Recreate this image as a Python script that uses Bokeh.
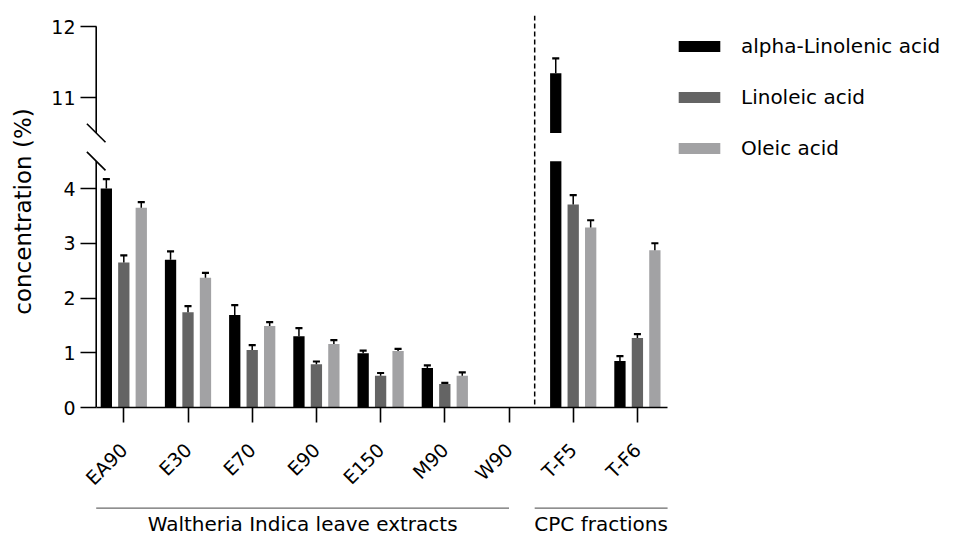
import numpy as np
from bokeh.plotting import figure
from bokeh.models import ColumnDataSource, Range1d, FixedTicker, Span, Legend, LegendItem
from bokeh.layouts import column
from bokeh.core.properties import value
from bokeh.embed import file_html
from bokeh.resources import INLINE

# ---------------- data ----------------
categories = ["EA90", "E30", "E70", "E90", "E150", "M90", "W90", "T-F5", "T-F6"]
series_names = ["alpha-Linolenic acid", "Linoleic acid", "Oleic acid"]
alpha = [4.00, 2.70, 1.69, 1.30, 0.99, 0.72, 0.0, 11.34, 0.85]
alpha_err = [0.17, 0.15, 0.18, 0.15, 0.05, 0.05, 0.0, 0.21, 0.09]
linoleic = [2.65, 1.74, 1.05, 0.79, 0.58, 0.43, 0.0, 3.71, 1.27]
linoleic_err = [0.13, 0.11, 0.09, 0.05, 0.05, 0.02, 0.0, 0.17, 0.07]
oleic = [3.65, 2.37, 1.49, 1.16, 1.03, 0.58, 0.0, 3.29, 2.87]
oleic_err = [0.10, 0.09, 0.07, 0.07, 0.04, 0.06, 0.0, 0.13, 0.13]
groups = ["Waltheria Indica leave extracts", "CPC fractions"]
group_start = [-0.43, 6.4]
group_end = [6.0, 8.47]
divider_x = 6.4
lower_ticks = [0, 1, 2, 3, 4]
upper_ticks = [11, 12]
LOWER_MAX = 4.5
UPPER_MIN = 10.5
UPPER_MAX = 12.0

# ---------------- layout / style ----------------
FONT = "DejaVu Sans"
colors = ["#000000", "#646464", "#a2a2a4"]
W, H_MAIN, H_GROUP = 961, 503, 32
LEFT, TOP, BOTTOM = 80, 15, 96
frame_w = W - LEFT
frame_h = H_MAIN - TOP - BOTTOM
PX_PER_CAT = 64.2
X_AXIS = -0.43          # where the y axis line sits
X_END = 8.465           # end of x axis line
x0 = X_AXIS - 15.7 / PX_PER_CAT
x_range = Range1d(x0, x0 + frame_w / PX_PER_CAT)
L0, L1 = 0.0, 7.16
U0, U1 = 6.634, 12.155
BAR_W = 0.176
OFFSETS = [-0.272, 0.0, 0.272]
CAP = 0.055

p = figure(width=W, height=H_MAIN, x_range=x_range, y_range=Range1d(L0, L1),
           output_backend="svg", toolbar_location=None, title=None,
           min_border_left=LEFT, min_border_right=0, min_border_top=TOP,
           min_border_bottom=BOTTOM)
p.extra_y_ranges = {"upper": Range1d(U0, U1)}
p.outline_line_color = None
p.xgrid.visible = False
p.ygrid.visible = False
p.background_fill_color = "white"
p.border_fill_color = "white"

all_vals = [alpha, linoleic, oleic]
all_errs = [alpha_err, linoleic_err, oleic_err]
xs = np.arange(len(categories), dtype=float)
legend_items = []
for name, vals, errs, col, off in zip(series_names, all_vals, all_errs, colors, OFFSETS):
    v = np.array(vals, dtype=float)
    e = np.array(errs, dtype=float)
    x = xs + off
    src = ColumnDataSource(dict(x=x, top=np.minimum(v, LOWER_MAX)))
    r = p.vbar(x="x", top="top", bottom=0, width=BAR_W, source=src,
               fill_color=col, line_color=None)
    legend_items.append(LegendItem(label=name, renderers=[r]))
    up = v > UPPER_MIN
    if up.any():
        p.vbar(x=x[up], top=v[up], bottom=UPPER_MIN, width=BAR_W,
               fill_color=col, line_color=None, y_range_name="upper")
    low = (v > 0) & (v <= LOWER_MAX)
    for mask, rng in ((low, "default"), (up, "upper")):
        if not mask.any():
            continue
        xm, vm, em = x[mask], v[mask], e[mask]
        p.segment(x0=xm, y0=vm, x1=xm, y1=vm + em, line_color="black",
                  line_width=1.5, y_range_name=rng)
        p.segment(x0=xm - CAP, y0=vm + em, x1=xm + CAP, y1=vm + em,
                  line_color="black", line_width=2.2, y_range_name=rng)

# divider
p.add_layout(Span(location=divider_x, dimension="height", line_color="black",
                  line_width=1.5, line_dash="5 3"))

# broken y axis line and break marks
p.segment(x0=[X_AXIS], y0=[0], x1=[X_AXIS], y1=[LOWER_MAX], line_color="black", line_width=1.6)
p.segment(x0=[X_AXIS], y0=[UPPER_MIN], x1=[X_AXIS], y1=[UPPER_MAX], line_color="black",
          line_width=1.6, y_range_name="upper")
sx = frame_w / (x_range.end - x_range.start)
sy_low = frame_h / (L1 - L0)
sy_up = frame_h / (U1 - U0)
half = 9.3
p.segment(x0=[X_AXIS - half / sx], y0=[LOWER_MAX + half / sy_low],
          x1=[X_AXIS + half / sx], y1=[LOWER_MAX - half / sy_low],
          line_color="black", line_width=1.6)
p.segment(x0=[X_AXIS - half / sx], y0=[UPPER_MIN + half / sy_up],
          x1=[X_AXIS + half / sx], y1=[UPPER_MIN - half / sy_up],
          line_color="black", line_width=1.6, y_range_name="upper")

# y axis (ticks/labels for both segments on one axis)
def to_lower(vv):
    return L0 + (vv - U0) / (U1 - U0) * (L1 - L0)

tick_pos = [float(t) for t in lower_ticks] + [to_lower(t) for t in upper_ticks]
tick_lab = [str(t) for t in lower_ticks] + [str(t) for t in upper_ticks]
ya = p.yaxis[0]
ya.ticker = FixedTicker(ticks=tick_pos)
ya.major_label_overrides = {tp: tl for tp, tl in zip(tick_pos, tick_lab)}
ya.axis_line_color = None
ya.major_tick_in = 16
ya.major_tick_out = 0
ya.major_tick_line_width = 1.6
ya.major_tick_line_color = "black"
ya.minor_tick_line_color = None
ya.major_label_standoff = 5
ya.major_label_text_font = FONT
ya.major_label_text_font_size = "19px"
ya.major_label_text_color = "black"
ya.axis_label = "concentration (%)"
ya.axis_label_text_font = FONT
ya.axis_label_text_font_size = "23px"
ya.axis_label_text_font_style = "normal"
ya.axis_label_text_color = "black"
ya.axis_label_standoff = 12

xa = p.xaxis[0]
xa.ticker = FixedTicker(ticks=list(range(len(categories))))
xa.major_label_overrides = {i: c for i, c in enumerate(categories)}
xa.bounds = (X_AXIS, X_END)
xa.axis_line_width = 1.6
xa.axis_line_color = "black"
xa.major_tick_in = 0
xa.major_tick_out = 15
xa.major_tick_line_width = 1.6
xa.minor_tick_line_color = None
xa.major_label_orientation = np.pi / 4
xa.major_label_standoff = 24
xa.major_label_text_font = FONT
xa.major_label_text_font_size = "19px"
xa.major_label_text_color = "black"

legend = Legend(items=legend_items, location=(593, 246), glyph_width=52, glyph_height=14,
                label_height=26, spacing=25, label_standoff=16, padding=0, margin=0,
                border_line_color=None, background_fill_alpha=0,
                label_text_font=FONT, label_text_font_size="20px", label_text_color="black")
p.add_layout(legend)

# group labels below
g = figure(width=W, height=H_GROUP, x_range=x_range, y_range=Range1d(0, H_GROUP),
           x_axis_type=None, y_axis_type=None, output_backend="svg",
           toolbar_location=None, title=None, min_border_left=LEFT,
           min_border_right=0, min_border_top=0, min_border_bottom=0)
g.outline_line_color = None
g.segment(x0=group_start, y0=[27.3] * len(groups), x1=group_end, y1=[27.3] * len(groups),
          line_color="#6a6a6a", line_width=1.3)
centers = [(a + b) / 2 for a, b in zip(group_start, group_end)]
g.text(x=centers, y=[12.0] * len(groups), text=groups, text_align="center",
       text_baseline="middle", text_font=value(FONT), text_font_size="20px",
       text_color="black")

layout = column(p, g, spacing=0)
open("out.html", "w").write(file_html(layout, INLINE))
